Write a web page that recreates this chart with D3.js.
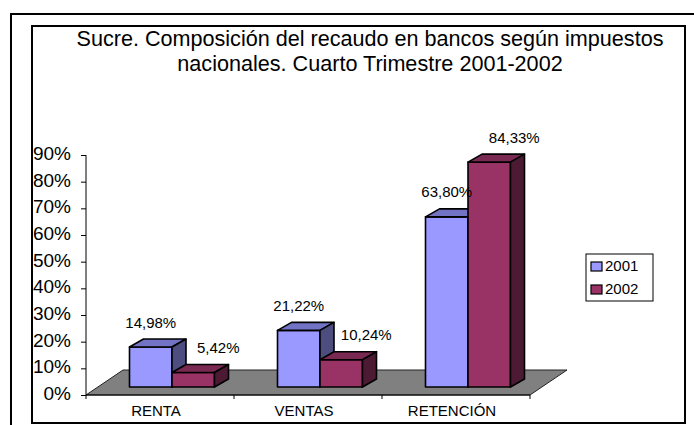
<!DOCTYPE html>
<html>
<head>
<meta charset="utf-8">
<script src="https://cdn.jsdelivr.net/npm/d3@7"></script>
<style>
  body { margin: 0; background: #fff; }
  svg { display: block; font-family: Arial, "Liberation Sans", sans-serif; }
</style>
</head>
<body>
<svg width="694" height="425"></svg>
<script>
// chart values
var categories = ["RENTA", "VENTAS", "RETENCIÓN"];
var series = ["2001", "2002"];
var values2001 = [14.98, 21.22, 63.80];
var values2002 = [5.42, 10.24, 84.33];
var yTicks = [0, 10, 20, 30, 40, 50, 60, 70, 80, 90];
var titleLines = ["Sucre. Composición del recaudo en bancos según impuestos",
  "nacionales. Cuarto Trimestre 2001-2002"];

var colors = {
  "2001": { front: "#9999ff", top: "#7373c6", side: "#4d4d80" },
  "2002": { front: "#993366", top: "#7a2952", side: "#4d1a33" }
};

var svg = d3.select("svg");

// frames
svg.append("rect")
  .attr("x", 11).attr("y", 14).attr("width", 720).attr("height", 440)
  .attr("fill", "none").attr("stroke", "#000").attr("stroke-width", 2);
svg.append("rect")
  .attr("x", 32).attr("y", 26).attr("width", 653).attr("height", 397)
  .attr("fill", "#fff").attr("stroke", "#000").attr("stroke-width", 2);

// title
svg.append("g").selectAll("text")
  .data(titleLines)
  .enter().append("text")
  .attr("x", 370)
  .attr("y", (d, i) => 46 + i * 24.5)
  .attr("text-anchor", "middle")
  .attr("font-size", 21.6)
  .text(d => d);

// scales (front edge of floor)
var x0 = 86, x1 = 530, yBase = 395;
var x = d3.scaleBand().domain(categories).range([x0, x1]);
var xs = d3.scaleBand().domain(series).range([31.5, 116.5]);
var y = d3.scaleLinear().domain([0, 90]).range([yBase, 155]);

var floorD = [37, -25];   // floor depth
var barOff = [12, -8];    // bar front face offset into depth
var barD = [14, -8];      // bar depth

// floor
svg.append("path")
  .attr("d", d3.line()([[x0, yBase], [x1, yBase], [x1 + floorD[0], yBase + floorD[1]],
    [x0 + floorD[0], yBase + floorD[1]]]) + "Z")
  .attr("fill", "#808080").attr("stroke", "#222").attr("stroke-width", 1);

// x axis
svg.append("line").attr("x1", x0).attr("x2", x1).attr("y1", yBase).attr("y2", yBase)
  .attr("stroke", "#000").attr("stroke-width", 1.2);
svg.append("g").selectAll("line")
  .data(categories.map(c => x(c)).concat([x1]))
  .enter().append("line")
  .attr("x1", d => d).attr("x2", d => d)
  .attr("y1", yBase).attr("y2", yBase + 4)
  .attr("stroke", "#000");
svg.append("g").selectAll("text")
  .data(categories)
  .enter().append("text")
  .attr("x", d => x(d) + x.bandwidth() / 2 - 4)
  .attr("y", 415.5)
  .attr("text-anchor", "middle")
  .attr("font-size", 15)
  .text(d => d);

// y axis
var yAxis = svg.append("g").attr("transform", "translate(" + x0 + ",0)")
  .call(d3.axisLeft(y).tickValues(yTicks).tickSize(5).tickPadding(10)
    .tickFormat(d => d + "%"));
yAxis.select(".domain").attr("d", "M0," + y(90) + "V" + y(0)).attr("stroke", "#000");
yAxis.selectAll(".tick line").attr("stroke", "#000");
yAxis.selectAll("text")
  .attr("font-family", "Arial, 'Liberation Sans', sans-serif")
  .attr("font-size", 19).attr("fill", "#000")
  .attr("dy", null).attr("y", 4.5);

// bars
var rows = [];
categories.forEach((c, i) => {
  rows.push({ cat: c, s: "2001", v: values2001[i] });
  rows.push({ cat: c, s: "2002", v: values2002[i] });
});

var fmt = d3.formatLocale({ decimal: ",", thousands: ".", grouping: [3], currency: ["", ""] }).format(".2f");
var labelShift = { "2001": 0, "2002": 25 };

var bars = svg.append("g").selectAll("g").data(rows).enter().append("g");
bars.each(function (d) {
  var g = d3.select(this);
  var left = x(d.cat) + xs(d.s) + barOff[0];
  var right = left + xs.bandwidth();
  var bottom = yBase + barOff[1];
  var top = bottom - (yBase - y(d.v));
  var c = colors[d.s];
  var line = d3.line();
  g.append("path")
    .attr("d", line([[left, top], [right, top], [right, bottom], [left, bottom]]) + "Z")
    .attr("fill", c.front);
  g.append("path")
    .attr("d", line([[left, top], [left + barD[0], top + barD[1]], [right + barD[0], top + barD[1]], [right, top]]) + "Z")
    .attr("fill", c.top);
  g.append("path")
    .attr("d", line([[right, top], [right + barD[0], top + barD[1]], [right + barD[0], bottom + barD[1]], [right, bottom]]) + "Z")
    .attr("fill", c.side);
  g.selectAll("path").attr("stroke", "#000").attr("stroke-width", 1.6).attr("stroke-linejoin", "round");
  d.lx = (left + right) / 2 + labelShift[d.s];
  d.ly = top + barD[1] - 11.5;
});

svg.append("g").selectAll("text")
  .data(rows)
  .enter().append("text")
  .attr("x", d => d.lx).attr("y", d => d.ly)
  .attr("text-anchor", "middle")
  .attr("font-size", 15)
  .text(d => fmt(d.v) + "%");

// legend
var legend = svg.append("g");
legend.append("rect").attr("x", 586).attr("y", 254).attr("width", 67).attr("height", 47)
  .attr("fill", "#fff").attr("stroke", "#000").attr("stroke-width", 1);
var li = legend.selectAll("g").data(series).enter().append("g")
  .attr("transform", (d, i) => "translate(591," + (262 + i * 23) + ")");
li.append("rect").attr("width", 11).attr("height", 9)
  .attr("fill", d => colors[d].front).attr("stroke", "#000").attr("stroke-width", 1.2);
li.append("text").attr("x", 14).attr("y", 8.5).attr("font-size", 15).text(d => d);
</script>
</body>
</html>
